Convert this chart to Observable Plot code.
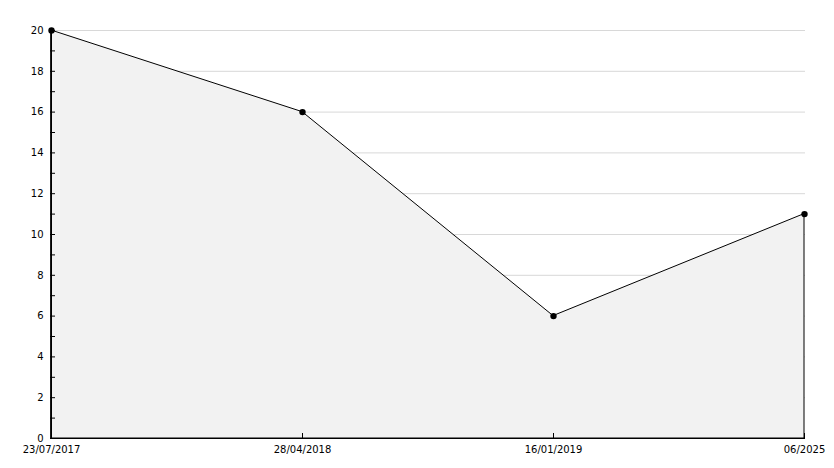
<!DOCTYPE html>
<html>
<head>
<meta charset="utf-8">
<script src="https://cdn.jsdelivr.net/npm/d3@7"></script>
<script src="https://cdn.jsdelivr.net/npm/@observablehq/plot@0.6"></script>
<style>
  html, body { margin: 0; padding: 0; background: #fff; }
  svg { display: block; }
</style>
</head>
<body>
<div id="chart"></div>
<script>
const dates = ["23/07/2017", "28/04/2018", "16/01/2019", "06/2025"];
const values = [20, 16, 6, 11];
const majorTicks = [0, 2, 4, 6, 8, 10, 12, 14, 16, 18, 20];
const minorTicks = [1, 3, 5, 7, 9, 11, 13, 15, 17, 19];

const data = dates.map((d, i) => ({date: d, value: values[i]}));

const chart = Plot.plot({
  width: 834,
  height: 468,
  marginLeft: 50,
  marginRight: 29,
  marginTop: 30,
  marginBottom: 30,
  style: {fontFamily: "DejaVu Sans", fontSize: "10px", color: "#000", background: "#fff"},
  x: {type: "point", domain: dates, padding: 0},
  y: {domain: [0, 20]},
  marks: [
    Plot.gridY(majorTicks.filter(d => d > 0), {stroke: "#d8d8d8", strokeOpacity: 1}),
    Plot.areaY(data, {x: "date", y: "value", fill: "#f2f2f2", stroke: "#000", strokeWidth: 1}),
    Plot.dot(data, {x: "date", y: "value", r: 3.2, fill: "#000", stroke: "none"}),
    Plot.axisY({ticks: majorTicks, tickSize: 0, tickPadding: 7, label: null, fill: "#000"}),
    Plot.axisY({ticks: majorTicks, tickSize: -5, text: null, label: null, stroke: "#000", strokeOpacity: 1}),
    Plot.axisY({ticks: minorTicks, tickSize: -5, text: null, label: null, stroke: "#000", strokeOpacity: 1}),
    Plot.axisX({tickSize: 0, tickPadding: 7, label: null, fill: "#000"}),
    Plot.axisX({tickSize: -5, text: null, label: null, stroke: "#000", strokeOpacity: 1}),
    Plot.ruleX([dates[0]], {y1: 0, y2: 20, stroke: "#000"}),
    Plot.ruleY([0], {stroke: "#000"})
  ]
});
document.getElementById("chart").appendChild(chart);
</script>
</body>
</html>
